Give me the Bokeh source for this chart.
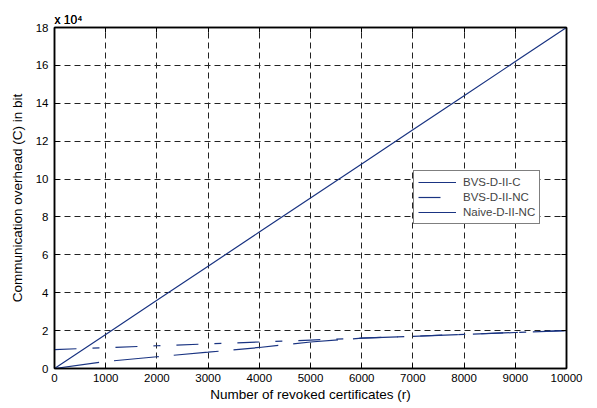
from bokeh.plotting import figure
from bokeh.models import Range1d, FixedTicker, LinearAxis, Legend, LegendItem
from bokeh.embed import file_html
from bokeh.resources import INLINE

# ---- data ----
r = [0, 1000, 2000, 3000, 4000, 5000, 6000, 7000, 8000, 9000, 10000]
bvs_d_ii_c = [0, 18000, 36000, 54000, 72000, 90000, 108000, 126000, 144000, 162000, 180000]
bvs_d_ii_nc = [10000, 11000, 12000, 13000, 14000, 15000, 16000, 17000, 18000, 19000, 20000]
naive_d_ii_nc = [0, 3700, 6200, 8600, 11100, 14000, 16000, 17000, 18000, 19000, 20000]

x_tick_values = [0, 1000, 2000, 3000, 4000, 5000, 6000, 7000, 8000, 9000, 10000]
y_tick_values = [0, 20000, 40000, 60000, 80000, 100000, 120000, 140000, 160000, 180000]
y_tick_labels = ["0", "2", "4", "6", "8", "10", "12", "14", "16", "18"]
y_multiplier_text = "x 10\u2074"

series_names = ["BVS-D-II-C", "BVS-D-II-NC", "Naive-D-II-NC"]

FONT = "Liberation Sans"
LINE_COLOR = "#1a3482"

p = figure(width=597, height=408, output_backend="svg", toolbar_location=None,
           x_range=Range1d(0, 10000), y_range=Range1d(0, 180000),
           min_border_left=54, min_border_right=31, min_border_top=27, min_border_bottom=40,
           background_fill_color="white", border_fill_color="white")

xt = FixedTicker(ticks=x_tick_values)
yt = FixedTicker(ticks=y_tick_values)
p.xaxis.ticker = xt
p.yaxis.ticker = yt
p.xgrid.ticker = xt
p.ygrid.ticker = yt
p.yaxis.major_label_overrides = {v: l for v, l in zip(y_tick_values, y_tick_labels)}

for ax in (p.xaxis, p.yaxis):
    ax.axis_line_color = "black"
    ax.axis_line_width = 1.5
    ax.major_tick_line_color = "black"
    ax.major_tick_in = 5
    ax.major_tick_out = 0
    ax.minor_tick_line_color = None
    ax.major_label_text_font = FONT
    ax.major_label_text_font_size = "11.5px"
    ax.major_label_text_color = "black"
    ax.axis_label_text_font = FONT
    ax.axis_label_text_font_size = "13.5px"
    ax.axis_label_text_font_style = "normal"
    ax.axis_label_text_color = "black"

p.xaxis.axis_label = "Number of revoked certificates (r)"
p.yaxis.axis_label = "Communication overhead (C) in bit"
p.xaxis.major_label_standoff = 5
p.xaxis.axis_label_standoff = 2
p.yaxis.major_label_standoff = 6
p.yaxis.axis_label_standoff = 8

# box axes (top / right) with inward ticks and hidden labels
top_ax = LinearAxis(ticker=xt, major_label_text_font_size="1px", major_label_text_color=None,
                    major_label_standoff=0, major_tick_in=5, major_tick_out=0,
                    minor_tick_line_color=None, axis_line_color="black", axis_line_width=1.5,
                    major_tick_line_color="black")
right_ax = LinearAxis(ticker=yt, major_label_text_font_size="1px", major_label_text_color=None,
                      major_label_standoff=0, major_tick_in=5, major_tick_out=0,
                      minor_tick_line_color=None, axis_line_color="black", axis_line_width=1.5,
                      major_tick_line_color="black")
p.add_layout(top_ax, "above")
p.add_layout(right_ax, "right")
p.outline_line_color = "black"
p.outline_line_width = 1.5

# multiplier shown as a left-aligned title just above the frame
p.title.text = y_multiplier_text
p.title.align = "left"
p.title.text_font = FONT
p.title.text_font_size = "12px"
p.title.text_font_style = "normal"
p.title.text_color = "black"
p.title.standoff = -10
p.title.offset = 0
p.above = [top_ax, p.title]

for g in (p.xgrid, p.ygrid):
    g.grid_line_color = "#222222"
    g.grid_line_dash = "6 4"
    g.grid_line_width = 1

r1 = p.line(r, bvs_d_ii_c, line_color=LINE_COLOR, line_width=1.2)
r2 = p.line(r, bvs_d_ii_nc, line_color=LINE_COLOR, line_width=1.2, line_dash="22 16 7 16")
r3 = p.line(r, naive_d_ii_nc, line_color=LINE_COLOR, line_width=1.2, line_dash="45 15")

legend = Legend(items=[LegendItem(label=series_names[0], renderers=[r1]),
                       LegendItem(label=series_names[1], renderers=[r2]),
                       LegendItem(label=series_names[2], renderers=[r3])],
                location=(359, 144), orientation="vertical")
legend.border_line_color = "black"
legend.border_line_width = 1.5
legend.background_fill_color = "white"
legend.background_fill_alpha = 1
legend.label_text_font = FONT
legend.label_text_font_size = "11.5px"
legend.glyph_width = 38
legend.glyph_height = 14
legend.label_height = 14
legend.label_standoff = 7
legend.padding = 4
legend.spacing = 1
legend.margin = 0
p.add_layout(legend, "center")

open("out.html", "w").write(file_html(p, INLINE))
